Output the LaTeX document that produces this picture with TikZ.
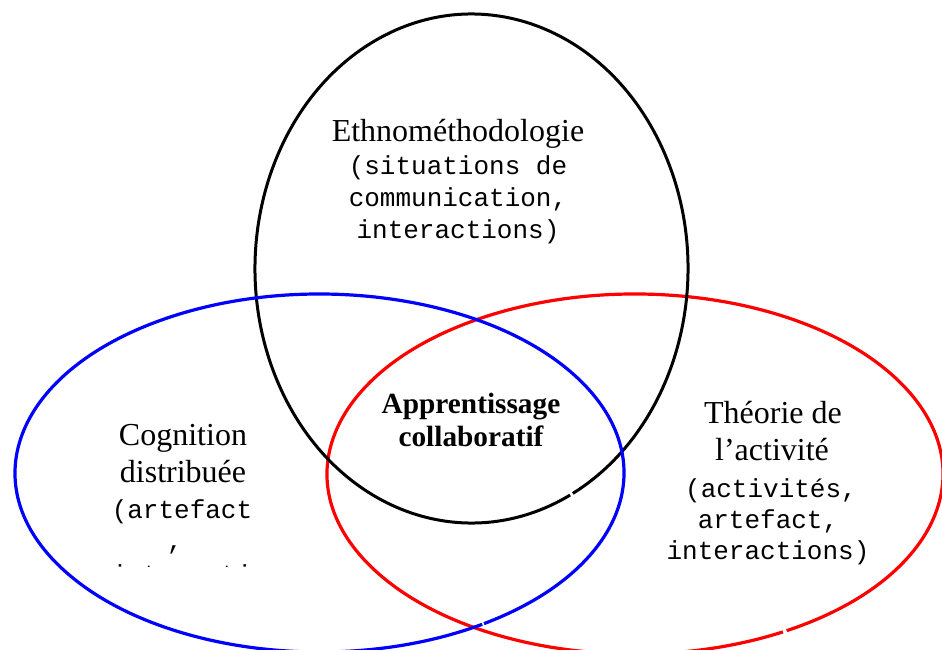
\documentclass[tikz,border=0pt]{standalone}
\usepackage{fontspec}
\newfontfamily\tnr{Liberation Serif}
\newfontfamily\cour{Liberation Mono}
\tikzset{
  ring/.style={line width=3.2pt},
  serifline/.style={anchor=base, inner sep=0pt, font=\tnr\fontsize{32}{37}\selectfont},
  monoline/.style={anchor=base, inner sep=0pt, font=\cour\fontsize{26}{31}\selectfont},
  boldline/.style={anchor=base, inner sep=0pt, font=\tnr\bfseries\fontsize{29.3}{34}\selectfont},
}
\begin{document}
\begin{tikzpicture}[x=1pt,y=1pt]
\useasboundingbox (0,0) rectangle (942,-649);
\fill[white] (0,0) rectangle (942,-649);
\begin{scope}
\clip (0,0) rectangle (942,-649);
\coordinate (cE) at (471.5,-268.5);
\coordinate (cB) at (319.5,-473);
\coordinate (cR) at (635,-474);
\draw[ring, red] ([shift={(-60.5:308pt and 180pt)}]cR) arc[start angle=-60.5, end angle=298.7, x radius=308pt, y radius=180pt];
\draw[ring, black, line width=3pt] ([shift={(-62.1:216.5pt and 254.5pt)}]cE) arc[start angle=-62.1, end angle=297.1, x radius=216.5pt, y radius=254.5pt];
\draw[ring, blue] ([shift={(-57.3:304.5pt and 179pt)}]cB) arc[start angle=-57.3, end angle=302.3, x radius=304.5pt, y radius=179pt];
\end{scope}

\node[serifline] (eth) at (458,-141) {Ethnométhodologie};
\node[monoline] (eth1) at (458,-174) {(situations de};
\node[monoline] (eth2) at (458,-206) {communication,};
\node[monoline] (eth3) at (458,-238) {interactions)};

\node[serifline] (cog1) at (183,-445) {Cognition};
\node[serifline] (cog2) at (183,-482) {distribuée};
\node[monoline] (cog3) at (182,-518) {(artefact};
\node[monoline] (cog4) at (175,-549) {,};
\begin{scope}
\clip (0,-400) rectangle (300,-566.5);
\node[monoline] (cog5) at (182,-583.5) {interacti};
\end{scope}

\node[serifline] (th1) at (773,-423) {Théorie de};
\node[serifline] (th2) at (772,-460) {l’activité};
\node[monoline] (th3) at (771,-497) {(activités,};
\node[monoline] (th4) at (768,-528) {artefact,};
\node[monoline] (th5) at (768,-559) {interactions)};

\node[boldline] (ap1) at (471,-413) {Apprentissage};
\node[boldline] (ap2) at (471,-446) {collaboratif};
\end{tikzpicture}
\end{document}
